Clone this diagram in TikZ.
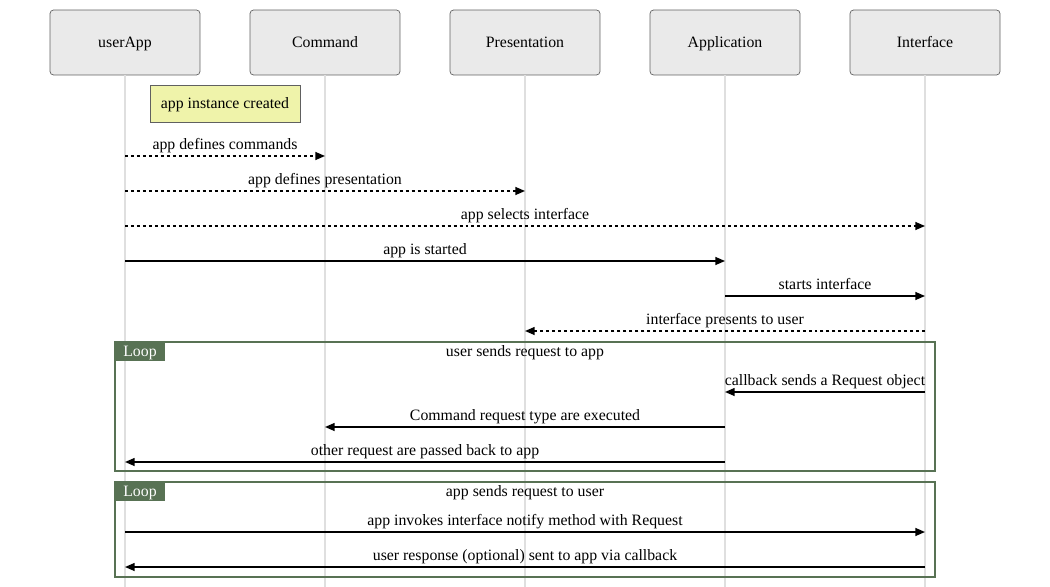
\documentclass[tikz,border=0pt]{standalone}
\usepackage{fontspec}
\setmainfont{Liberation Serif}
\usetikzlibrary{arrows.meta}
\definecolor{headfill}{RGB}{234,234,234}
\definecolor{notefill}{RGB}{239,243,170}
\definecolor{loopgreen}{RGB}{88,114,84}
\begin{document}
\begin{tikzpicture}[x=0.02cm,y=-0.02cm,font=\fontsize{9}{11}\selectfont,
  every node/.style={text height=1.6ex,text depth=0.45ex},
  actor/.style={draw=gray!75!black,fill=headfill,rounded corners=2pt,minimum width=3cm,minimum height=1.3cm},
  life/.style={draw=gray!25,line width=0.8pt},
  msg/.style={line width=0.9pt,-{Triangle[length=5.5pt,width=4.5pt]}},
  msgdash/.style={msg,dash pattern=on 1.7pt off 1.7pt},
  frame/.style={draw=loopgreen,line width=0.9pt},
  looptag/.style={fill=loopgreen,text=white,minimum width=1cm,minimum height=0.38cm,inner sep=0pt}]
\useasboundingbox (0,0) rectangle (1050,587);

\node[actor] (uA) at (125,42.5) {userApp};
\node[actor] (cmd) at (325,42.5) {Command};
\node[actor] (pres) at (525,42.5) {Presentation};
\node[actor] (app) at (725,42.5) {Application};
\node[actor] (intf) at (925,42.5) {Interface};

\foreach \v in {uA,cmd,pres,app,intf}
\draw[life] (\v.south) -- (\v.south |- 0,587);

\node[draw=gray!75!black,fill=notefill,minimum width=3cm,minimum height=0.74cm] (note) at (225,103.5) {app instance created};

% loops
\draw[frame] (115,342) rectangle (935,471);
\node[looptag] (loop1) at (140,351.5) {Loop};
\node (loop1t) at (525,352) {user sends request to app};
\draw[frame] (115,482) rectangle (935,577);
\node[looptag] (loop2) at (140,491.5) {Loop};
\node (loop2t) at (525,492) {app sends request to user};

\foreach \from/\to/\y/\sty/\txt in {uA/cmd/156/msgdash/app defines commands,
  uA/pres/191/msgdash/app defines presentation,
  uA/intf/226/msgdash/app selects interface,
  uA/app/261/msg/app is started,
  app/intf/296/msg/starts interface,
  intf/pres/331/msgdash/interface presents to user,
  intf/app/392/msg/callback sends a Request object,
  app/cmd/427/msg/Command request type are executed,
  app/uA/462/msg/other request are passed back to app,
  uA/intf/532/msg/app invokes interface notify method with Request,
  intf/uA/567/msg/user response (optional) sent to app via callback}
\draw[\sty] (\from |- 0,\y) -- node[above=-2pt] {\txt} (\to |- 0,\y);
\end{tikzpicture}
\end{document}
